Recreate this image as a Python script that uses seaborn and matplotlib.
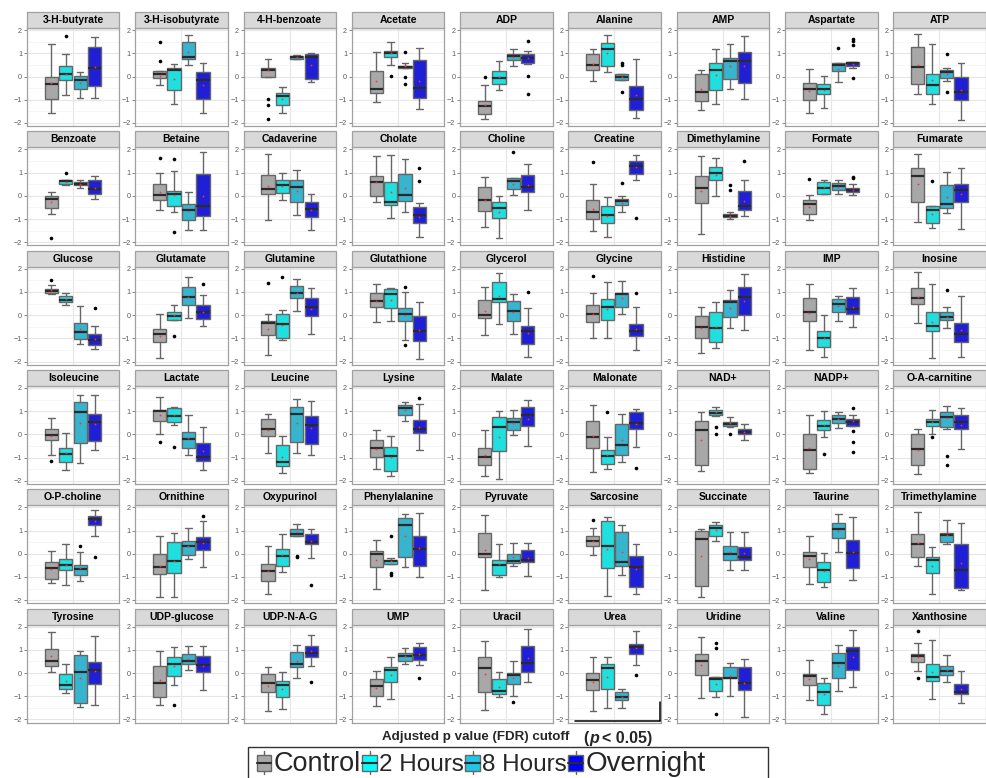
import numpy as np
import pandas as pd
import matplotlib
matplotlib.use("Agg")
import matplotlib.pyplot as plt
import seaborn as sns
from matplotlib.patches import Rectangle, Patch
from matplotlib.lines import Line2D
from matplotlib.legend_handler import HandlerBase

# ---------------- data ----------------
metabolites = [
    "3-H-butyrate", "3-H-isobutyrate", "4-H-benzoate", "Acetate", "ADP", "Alanine", "AMP", "Aspartate", "ATP",
    "Benzoate", "Betaine", "Cadaverine", "Cholate", "Choline", "Creatine", "Dimethylamine", "Formate", "Fumarate",
    "Glucose", "Glutamate", "Glutamine", "Glutathione", "Glycerol", "Glycine", "Histidine", "IMP", "Inosine",
    "Isoleucine", "Lactate", "Leucine", "Lysine", "Malate", "Malonate", "NAD+", "NADP+", "O-A-carnitine",
    "O-P-choline", "Ornithine", "Oxypurinol", "Phenylalanine", "Pyruvate", "Sarcosine", "Succinate", "Taurine", "Trimethylamine",
    "Tyrosine", "UDP-glucose", "UDP-N-A-G", "UMP", "Uracil", "Urea", "Uridine", "Valine", "Xanthosine",
]
groups = ["Control", "2 Hours", "8 Hours", "Overnight"]

# (lower whisker, Q1, median, Q3, upper whisker) per metabolite
control = [
    (-1.55, -0.97, -0.30, 0.00, 1.40), (-0.35, -0.05, 0.10, 0.23, 0.25), (0.00, 0.00, 0.27, 0.36, 0.75),
    (-1.08, -0.72, -0.53, 0.25, 1.05), (-1.85, -1.63, -1.28, -1.05, -0.35), (-0.20, 0.28, 0.50, 0.98, 1.18),
    (-1.42, -1.05, -0.65, 0.10, 0.30), (-1.57, -1.02, -0.53, -0.28, 0.32), (-0.75, -0.30, 0.40, 1.28, 1.82),
    (-0.80, -0.52, -0.15, 0.00, 0.17), (-0.60, -0.18, 0.05, 0.52, 1.00), (-1.02, 0.08, 0.28, 0.90, 1.80),
    (-0.25, 0.00, 0.60, 0.85, 1.70), (-1.35, -0.65, -0.17, 0.40, 0.82), (-1.50, -1.00, -0.70, -0.18, 0.50),
    (-1.65, -0.30, 0.35, 0.85, 1.72), (-1.05, -0.78, -0.35, -0.17, 0.03), (-1.12, -0.27, 0.87, 1.22, 1.80),
    (0.93, 0.95, 1.03, 1.12, 1.30), (-1.85, -1.17, -0.80, -0.60, 0.03), (-1.70, -0.85, -0.32, -0.25, 0.03),
    (-0.28, 0.35, 0.62, 0.97, 1.35), (-0.85, -0.12, 0.00, 0.65, 1.22), (-0.97, -0.30, 0.03, 0.45, 0.95),
    (-1.65, -1.00, -0.52, -0.05, 0.37), (-1.52, -0.25, 0.15, 0.75, 1.35), (-0.35, 0.47, 0.72, 1.15, 1.85),
    (-0.90, -0.25, -0.03, 0.23, 0.72), (0.00, 0.57, 1.00, 1.05, 1.62), (-0.80, -0.05, 0.25, 0.67, 0.88),
    (-1.50, -0.97, -0.57, -0.23, 0.20), (-1.78, -1.30, -0.97, -0.57, 0.20), (-1.60, -0.58, -0.10, 0.60, 1.28),
    (-1.57, -1.30, 0.20, 0.60, 0.95), (-1.67, -1.48, -0.67, 0.00, 0.82), (-1.72, -1.30, -0.63, 0.00, 0.22),
    (-1.27, -1.08, -0.60, -0.35, 0.10), (-1.85, -0.87, -0.58, -0.03, 0.77), (-1.75, -1.17, -0.75, -0.45, 0.33),
    (-1.50, -0.55, -0.03, 0.12, 0.58), (-1.57, -0.12, 0.00, 0.88, 1.68), (-0.05, 0.33, 0.53, 0.77, 1.12),
    (-1.85, -1.38, 0.63, 0.97, 1.07), (-1.30, -0.55, -0.10, 0.07, 0.75), (-0.53, -0.13, 0.42, 0.85, 1.80),
    (0.05, 0.30, 0.50, 1.05, 1.75), (-1.37, -1.02, -0.42, 0.30, 0.97), (-1.63, -0.83, -0.45, -0.03, 0.25),
    (-1.40, -0.97, -0.57, -0.27, 0.07), (-1.60, -0.83, 0.23, 0.70, 1.37), (-1.65, -0.75, -0.30, 0.00, 0.70),
    (-1.07, -0.10, 0.52, 0.83, 1.57), (-1.17, -0.53, -0.13, -0.05, 0.55), (0.07, 0.47, 0.72, 0.83, 1.28),
]
hours2 = [
    (-0.80, -0.15, 0.13, 0.45, 0.95), (-1.20, -0.58, 0.30, 0.35, 0.55), (-1.55, -1.23, -0.85, -0.73, -0.45),
    (0.50, 0.85, 1.00, 1.12, 1.50), (-0.60, -0.33, -0.05, 0.23, 0.68), (0.18, 0.47, 1.18, 1.43, 1.78),
    (-1.20, -0.57, 0.30, 0.58, 1.17), (-1.35, -0.75, -0.52, -0.30, 0.03), (-1.20, -0.77, -0.37, 0.13, 1.42),
    (0.45, 0.52, 0.62, 0.70, 0.70), (-0.70, -0.45, 0.10, 0.20, 1.05), (-0.20, 0.12, 0.45, 0.68, 1.00),
    (-0.97, -0.38, -0.27, 0.60, 1.75), (-1.82, -0.97, -0.52, -0.27, 0.00), (-1.78, -1.17, -0.83, -0.43, -0.05),
    (0.00, 0.68, 0.98, 1.25, 1.65), (0.08, 0.10, 0.35, 0.60, 0.68), (-1.38, -1.17, -0.60, -0.43, -0.43),
    (0.45, 0.55, 0.65, 0.83, 0.95), (-0.22, -0.22, -0.02, 0.13, 0.45), (-1.05, -0.97, -0.40, 0.07, 0.20),
    (-0.25, 0.30, 0.90, 1.12, 1.17), (-0.37, 0.55, 0.68, 1.42, 1.80), (-0.97, -0.20, 0.37, 0.70, 1.42),
    (-1.42, -1.17, -0.57, 0.15, 0.55), (-1.80, -1.38, -1.00, -0.70, 0.00), (-1.85, -0.68, -0.48, 0.13, 1.32),
    (-1.52, -1.17, -0.85, -0.60, 0.05), (0.40, 0.55, 0.80, 1.13, 1.20), (-1.65, -1.38, -1.20, -0.45, -0.08),
    (-1.78, -1.58, -0.92, -0.53, -0.07), (-1.90, -0.70, 0.30, 0.73, 1.00), (-1.50, -1.27, -0.93, -0.65, -0.10),
    (0.80, 0.83, 0.93, 1.05, 1.20), (-0.12, 0.20, 0.38, 0.62, 1.00), (0.00, 0.37, 0.52, 0.65, 1.05),
    (-1.33, -0.72, -0.47, -0.22, 0.42), (-1.85, -0.85, -0.30, 0.50, 0.88), (-0.77, -0.52, -0.08, 0.22, 0.83),
    (-0.43, -0.43, -0.33, -0.27, -0.20), (-1.02, -0.93, -0.47, -0.27, 0.40), (-1.82, -0.60, 0.35, 1.42, 1.60),
    (0.55, 0.75, 1.10, 1.23, 1.38), (-1.43, -1.22, -0.72, -0.35, 0.05), (-1.75, -0.82, -0.27, -0.13, 0.30),
    (-0.88, -0.68, -0.52, -0.02, 0.37), (-0.53, -0.13, 0.40, 0.68, 1.10), (-1.57, -1.02, -0.53, -0.33, 0.05),
    (-1.13, -0.38, 0.15, 0.27, 0.70), (-1.05, -0.92, -0.78, -0.25, 0.05), (-1.50, -0.67, 0.23, 0.37, 0.67),
    (-1.05, -0.78, -0.27, -0.17, -0.17), (-1.77, -1.37, -0.82, -0.43, -0.23), (-1.12, -0.33, -0.15, 0.37, 1.42),
]
hours8 = [
    (-0.92, -0.52, -0.15, 0.02, 0.20), (0.50, 0.75, 0.82, 1.47, 1.78), (0.75, 0.76, 0.82, 0.90, 0.93),
    (0.35, 0.38, 0.43, 0.47, 0.60), (0.45, 0.70, 0.87, 0.97, 1.20), (-0.15, -0.15, -0.02, 0.12, 0.12),
    (-0.55, -0.10, 0.65, 0.78, 1.40), (-0.25, 0.25, 0.48, 0.60, 0.60), (-0.20, -0.05, 0.20, 0.30, 0.35),
    (0.35, 0.45, 0.50, 0.58, 0.68), (-1.48, -1.05, -0.60, -0.35, 0.17), (-0.83, -0.27, 0.38, 0.68, 1.12),
    (-0.70, -0.23, 0.03, 0.92, 1.60), (0.05, 0.30, 0.65, 0.75, 0.78), (-0.68, -0.40, -0.23, -0.13, 0.00),
    (-1.00, -0.92, -0.85, -0.78, -0.70), (0.07, 0.27, 0.42, 0.55, 0.68), (-0.75, -0.53, -0.37, 0.45, 1.02),
    (-1.25, -1.03, -0.73, -0.35, 0.40), (-0.12, 0.42, 0.78, 1.20, 1.65), (0.17, 0.73, 0.97, 1.25, 1.55),
    (-1.05, -0.25, 0.03, 0.30, 1.00), (-0.82, -0.27, 0.18, 0.60, 0.93), (0.07, 0.33, 0.92, 0.95, 1.45),
    (-0.57, -0.08, 0.55, 0.65, 1.08), (-0.27, 0.13, 0.48, 0.70, 0.82), (-0.57, -0.20, -0.07, 0.15, 0.37),
    (-1.22, -0.35, 0.95, 1.40, 1.70), (-0.88, -0.57, -0.20, 0.12, 0.82), (-0.78, -0.33, 0.90, 1.18, 1.52),
    (0.60, 0.82, 1.12, 1.25, 1.40), (-0.02, 0.20, 0.53, 0.70, 1.05), (-1.17, -0.90, -0.45, 0.47, 0.87),
    (0.30, 0.35, 0.45, 0.52, 0.77), (0.28, 0.50, 0.67, 0.83, 0.97), (0.25, 0.33, 0.73, 0.98, 1.22),
    (-1.17, -0.90, -0.65, -0.48, 0.07), (-0.23, -0.05, 0.33, 0.55, 1.10), (0.75, 0.75, 0.87, 1.05, 1.30),
    (-0.57, -0.12, 1.25, 1.55, 1.70), (-0.53, -0.40, -0.30, -0.03, 0.47), (-0.92, -0.53, -0.35, 0.93, 1.23),
    (-0.68, -0.27, -0.03, 0.35, 0.95), (0.08, 0.67, 1.07, 1.33, 1.72), (0.43, 0.50, 0.82, 0.90, 1.45),
    (-1.47, -1.30, 0.05, 0.78, 0.95), (0.13, 0.40, 0.52, 0.82, 1.15), (-0.20, 0.25, 0.40, 0.92, 1.20),
    (0.40, 0.53, 0.73, 0.88, 1.08), (-0.97, -0.47, -0.07, 0.00, 0.50), (-1.50, -1.15, -1.03, -0.82, -0.68),
    (-0.97, -0.20, -0.20, 0.28, 0.45), (-0.77, -0.20, 0.42, 0.87, 1.22), (-0.38, -0.07, 0.08, 0.30, 0.78),
]
overnight = [
    (-0.92, -0.42, 0.37, 1.28, 1.72), (-1.55, -0.97, -0.17, 0.18, 0.58), (-0.25, -0.12, 0.82, 0.97, 1.02),
    (-1.40, -0.93, -0.50, 0.72, 1.22), (0.55, 0.60, 0.80, 0.97, 1.08), (-1.80, -1.45, -0.97, -0.42, 0.77),
    (-0.97, -0.27, 0.68, 1.07, 1.75), (0.35, 0.47, 0.57, 0.63, 0.63), (-1.87, -1.03, -0.68, 0.00, 0.58),
    (-0.13, 0.10, 0.28, 0.68, 0.85), (-1.48, -0.88, -0.45, 0.93, 1.87), (-1.48, -0.90, -0.57, -0.28, 0.10),
    (-1.78, -1.15, -0.83, -0.50, -0.30), (-0.60, 0.17, 0.38, 0.90, 1.38), (0.68, 0.92, 1.30, 1.50, 1.75),
    (-0.88, -0.60, -0.43, 0.22, 0.68), (0.05, 0.18, 0.25, 0.35, 0.50), (-1.42, -0.28, 0.27, 0.52, 1.22),
    (-1.45, -1.27, -1.05, -0.80, -0.47), (-0.45, -0.17, 0.12, 0.42, 0.85), (-0.83, -0.05, 0.35, 0.75, 1.15),
    (-1.90, -1.13, -0.70, -0.03, 0.58), (-1.82, -1.23, -0.70, -0.45, 0.30), (-1.48, -0.88, -0.68, -0.38, 0.33),
    (-0.62, 0.00, 0.78, 1.22, 1.75), (-0.52, 0.05, 0.27, 0.77, 1.15), (-1.80, -1.17, -0.83, -0.32, 0.83),
    (-0.65, -0.30, 0.52, 0.87, 1.70), (-1.52, -1.15, -0.97, -0.35, 0.33), (-0.90, -0.43, 0.42, 0.80, 1.42),
    (-0.65, 0.05, 0.25, 0.62, 1.30), (-0.50, 0.37, 0.83, 1.17, 1.50), (-0.55, 0.23, 0.48, 0.97, 1.10),
    (-0.23, 0.00, 0.12, 0.25, 0.45), (0.38, 0.38, 0.53, 0.65, 0.85), (-0.63, 0.25, 0.55, 0.83, 1.13),
    (0.77, 1.23, 1.50, 1.63, 1.87), (-0.57, 0.15, 0.52, 0.72, 1.40), (-0.20, 0.40, 0.50, 0.87, 1.07),
    (-1.02, -0.52, 0.22, 0.75, 1.77), (-0.97, -0.35, -0.25, 0.17, 0.47), (-1.73, -1.42, -0.57, -0.08, 0.43),
    (-0.72, -0.27, -0.12, 0.27, 0.93), (-1.15, -0.60, 0.03, 0.60, 1.57), (-1.57, -1.47, -0.68, 0.43, 1.32),
    (-1.37, -0.47, 0.15, 0.48, 1.58), (-0.72, 0.05, 0.35, 0.75, 1.17), (0.30, 0.70, 0.85, 1.17, 1.65),
    (0.33, 0.57, 0.78, 1.10, 1.30), (-0.37, 0.05, 0.45, 1.17, 1.90), (0.33, 0.80, 1.10, 1.25, 1.82),
    (-1.88, -0.75, -0.42, 0.25, 0.62), (-0.62, 0.12, 0.95, 1.13, 1.85), (-1.28, -0.90, -0.80, -0.47, 0.07),
]
outliers = {
    ("3-H-butyrate", "2 Hours"): [1.73],
    ("3-H-isobutyrate", "Control"): [0.65, 1.47],
    ("4-H-benzoate", "Control"): [-0.97, -1.22, -1.82],
    ("Acetate", "2 Hours"): [0.03],
    ("Acetate", "8 Hours"): [1.05, 0.0, -0.30],
    ("ADP", "Control"): [0.0],
    ("ADP", "Overnight"): [1.52, 0.03, -0.75],
    ("Alanine", "8 Hours"): [0.60, 0.50, -0.65],
    ("Aspartate", "8 Hours"): [1.22],
    ("Aspartate", "Overnight"): [1.60, 1.52, 1.35, -0.07],
    ("ATP", "8 Hours"): [0.97, -0.67],
    ("Benzoate", "Control"): [-1.83],
    ("Benzoate", "2 Hours"): [0.98],
    ("Betaine", "Control"): [1.65],
    ("Betaine", "2 Hours"): [1.57, -1.55],
    ("Cholate", "Overnight"): [1.22, 0.65],
    ("Choline", "8 Hours"): [1.90],
    ("Creatine", "Control"): [1.47],
    ("Creatine", "8 Hours"): [0.55],
    ("Creatine", "Overnight"): [-0.97],
    ("Dimethylamine", "8 Hours"): [0.45, 0.25],
    ("Dimethylamine", "Overnight"): [1.48],
    ("Formate", "Control"): [0.73],
    ("Formate", "Overnight"): [0.80, 0.75],
    ("Fumarate", "2 Hours"): [0.65],
    ("Glucose", "Control"): [1.50],
    ("Glucose", "Overnight"): [0.30],
    ("Glutamate", "2 Hours"): [-0.90],
    ("Glutamate", "Overnight"): [1.33],
    ("Glutamine", "Control"): [1.40],
    ("Glutamine", "2 Hours"): [1.63],
    ("Glutathione", "8 Hours"): [1.23, -1.27],
    ("Glycerol", "Overnight"): [1.00],
    ("Glycine", "Control"): [1.67],
    ("Glycine", "Overnight"): [0.95],
    ("Inosine", "8 Hours"): [1.10],
    ("Isoleucine", "Control"): [-1.15],
    ("Lactate", "Control"): [-0.32],
    ("Lactate", "2 Hours"): [-0.55],
    ("Lysine", "Overnight"): [1.58],
    ("Malonate", "2 Hours"): [0.95],
    ("Malonate", "Overnight"): [-1.45],
    ("NAD+", "2 Hours"): [0.32, 0.0],
    ("NAD+", "8 Hours"): [0.03],
    ("NADP+", "2 Hours"): [-0.85],
    ("NADP+", "Overnight"): [1.14, 0.14, -0.31, -0.74],
    ("O-A-carnitine", "2 Hours"): [-0.10],
    ("O-A-carnitine", "8 Hours"): [-0.93, -1.32],
    ("O-P-choline", "8 Hours"): [0.33],
    ("O-P-choline", "Overnight"): [-0.15],
    ("Ornithine", "Overnight"): [1.62],
    ("Oxypurinol", "8 Hours"): [-0.08, -0.12],
    ("Oxypurinol", "Overnight"): [-1.33],
    ("Phenylalanine", "2 Hours"): [0.77, -0.85, -0.90],
    ("Sarcosine", "Control"): [1.45],
    ("UDP-glucose", "2 Hours"): [-1.37],
    ("UDP-N-A-G", "Overnight"): [-0.37],
    ("UMP", "Overnight"): [-0.23],
    ("Uracil", "8 Hours"): [-1.23],
    ("Urea", "Overnight"): [-0.10],
    ("Uridine", "2 Hours"): [1.28, 1.08, -1.77],
    ("Xanthosine", "Control"): [1.83, -0.23],
}

palette = {"Control": "#A8A8A8", "2 Hours": "#00FFFF", "8 Hours": "#1EC6E8", "Overnight": "#0000F5"}
legend_sizes = {"Control": 19.5, "2 Hours": 17.5, "8 Hours": 17.5, "Overnight": 20}

# ---------------- tidy tables ----------------
rows = []
for g, summ in zip(groups, [control, hours2, hours8, overnight]):
    for m, five in zip(metabolites, summ):
        for v in five:
            rows.append((m, g, v))
box_df = pd.DataFrame(rows, columns=["metabolite", "group", "value"])
out_df = pd.DataFrame([(m, g, v) for (m, g), vals in outliers.items() for v in vals],
                      columns=["metabolite", "group", "value"])

# ---------------- figure ----------------
sns.set_theme(style="white")
plt.rcParams["font.family"] = ["Liberation Sans", "DejaVu Sans"]

W, H = 987, 778
fig = plt.figure(figsize=(W / 100, H / 100), dpi=100)
fig.patch.set_facecolor("white")

ncol = 9
col_left0, col_step, pan_w = 27.0, 108.3, 92.5
row_top0, row_step = 12.0, 119.3
strip_h, plot_h = 16.0, 98.0

for i, m in enumerate(metabolites):
    r, c = divmod(i, ncol)
    left = col_left0 + c * col_step
    top = row_top0 + r * row_step + strip_h
    ax = fig.add_axes([left / W, 1 - (top + plot_h) / H, pan_w / W, plot_h / H])
    ax.set_facecolor("white")

    sub = box_df[box_df.metabolite == m]
    sns.boxplot(data=sub, x="group", y="value", hue="group", order=groups, hue_order=groups,
                palette=palette, legend=False, whis=(0, 100), width=0.92, showfliers=False,
                linecolor="#666666", linewidth=1.0,
                medianprops=dict(color="#2A2A2A", linewidth=1.6),
                showmeans=True,
                meanprops=dict(marker="o", markerfacecolor="#FF3030", markeredgecolor="none", markersize=1.3),
                ax=ax, zorder=3)
    osub = out_df[out_df.metabolite == m]
    if len(osub):
        sns.stripplot(data=osub, x="group", y="value", order=groups, color="black", size=2.6,
                      jitter=False, linewidth=0, ax=ax, zorder=4)

    ax.set_xlim(-1.69, 4.73)
    ax.set_ylim(-2.13, 2.09)
    ax.set_xlabel("")
    ax.set_ylabel("")
    ax.set_xticks([1.5])
    ax.set_xticklabels([])
    ax.set_yticks([-2, -1, 0, 1, 2])
    ax.set_yticks([-1.5, -0.5, 0.5, 1.5], minor=True)
    ax.set_yticklabels(["\u22122", "\u22121", "0", "1", "2"])
    ax.grid(True, which="major", color="#E6E6E6", linewidth=0.8, zorder=0)
    ax.grid(True, which="minor", axis="y", color="#F3F3F3", linewidth=0.5, zorder=0)
    ax.set_axisbelow(True)
    ax.tick_params(axis="x", length=0, labelbottom=False)
    ax.tick_params(axis="y", which="major", length=2, width=0.5, color="#555555",
                   labelsize=5.2, labelcolor="#5A5A5A", pad=1.5, left=True)
    ax.tick_params(axis="y", which="minor", length=0)
    for s in ax.spines.values():
        s.set_color("#A0A0A0")
        s.set_linewidth(0.9)
        s.set_visible(True)

    # strip header
    ax.add_patch(Rectangle((0, 1), 1, strip_h / plot_h, transform=ax.transAxes, clip_on=False,
                           facecolor="#D9D9D9", edgecolor="#A0A0A0", linewidth=0.9, zorder=5))
    ax.text(0.5, 1 + strip_h / plot_h / 2, m, transform=ax.transAxes, ha="center", va="center",
            fontsize=7.5, fontweight="bold", color="black", zorder=6)

# ---------------- bottom annotation ----------------
fig.text(476 / W, 1 - 737 / H, "Adjusted p value (FDR) cutoff", ha="center", va="center",
         fontsize=9.6, fontweight="bold")
fig.text(583 / W, 1 - 738 / H, "(", ha="left", va="center", fontsize=11.5, fontweight="bold")
fig.text(589.5 / W, 1 - 738 / H, "p", ha="left", va="center", fontsize=11.5, fontweight="bold", style="italic")
fig.text(602 / W, 1 - 738 / H, "< 0.05)", ha="left", va="center", fontsize=11.5, fontweight="bold")
fig.add_artist(Line2D([575 / W, 660 / W], [1 - 721 / H, 1 - 721 / H], color="black", linewidth=1.1))
fig.add_artist(Line2D([660 / W, 660 / W], [1 - 702 / H, 1 - 721 / H], color="black", linewidth=1.1))


# ---------------- legend ----------------
class BoxKey(HandlerBase):
    def create_artists(self, legend, orig_handle, xdescent, ydescent, width, height, fontsize, trans):
        fc = orig_handle.get_facecolor()
        x0, y0 = -xdescent, -ydescent
        cx = x0 + width / 2
        whisk = Line2D([cx, cx], [y0 - 0.12 * height, y0 + 1.12 * height], color="#666666",
                       linewidth=1.0, transform=trans)
        rect = Rectangle((x0, y0 + 0.08 * height), width, 0.84 * height, facecolor=fc,
                         edgecolor="#666666", linewidth=1.0, transform=trans)
        med = Line2D([x0, x0 + width], [y0 + 0.5 * height] * 2, color="#2A2A2A", linewidth=1.5,
                     transform=trans)
        return [whisk, rect, med]


fig.add_artist(Rectangle((248 / W, -0.05), (768 - 248) / W, 0.05 + 1 - 747 / H, transform=fig.transFigure,
                         facecolor="white", edgecolor="#333333", linewidth=1.0))
handles = [Patch(facecolor=palette[g]) for g in groups]
leg = fig.legend(handles, groups, handler_map={Patch: BoxKey()}, ncol=4, loc="center left",
                 bbox_to_anchor=(257 / W, 1 - 764 / H), borderaxespad=0, frameon=False,
                 fontsize=17, handlelength=0.6, handleheight=0.85, handletextpad=0.12,
                 columnspacing=0.05, borderpad=0.0)
for t, g in zip(leg.get_texts(), groups):
    t.set_fontsize(legend_sizes[g])

fig.savefig("out.png", dpi=100, facecolor="white")
